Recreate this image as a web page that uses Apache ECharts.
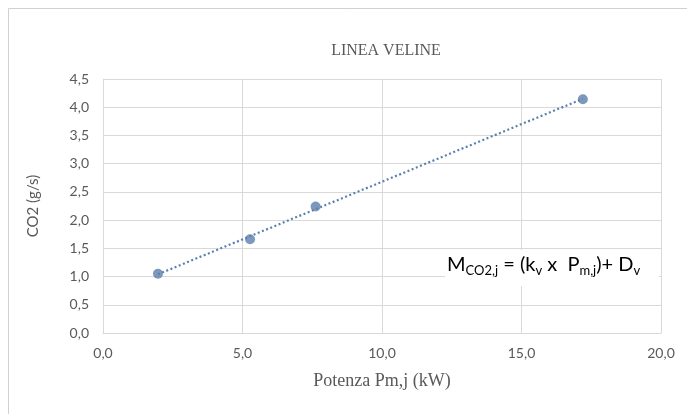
<!DOCTYPE html>
<html>
<head>
<meta charset="utf-8">
<style>
  html, body { margin: 0; padding: 0; background: #ffffff; }
  #chart { width: 687px; height: 414px; }
</style>
<script src="https://cdn.jsdelivr.net/npm/echarts@6/dist/echarts.min.js"></script>
</head>
<body>
<div id="chart"></div>
<script>
// Measured emissions per vehicle power class
const powerKW = [1.97, 5.27, 7.62, 17.2];
const co2GramsPerSec = [1.05, 1.66, 2.24, 4.14];

// Linear trend line end points (Excel-style dotted trendline)
const trendX = [1.97, 17.2];
const trendY = [1.04, 4.15];

// Axis ranges and tick steps
const xAxisRange = [0, 20, 5];
const yAxisRange = [0, 4.5, 0.5];

const chartTitle = 'LINEA VELINE';
const xAxisTitle = 'Potenza Pm,j (kW)';
const yAxisTitle = 'CO2 (g/s)';

const blue = '#5b80ad';
const grey = '#595959';
const gridGrey = '#d9d9d9';
const sansFont = 'Lato, "Open Sans", sans-serif';
const serifFont = '"Liberation Serif", "DejaVu Serif", serif';

const fmt = v => v.toFixed(1).replace('.', ',');

const chart = echarts.init(document.getElementById('chart'), null, { renderer: 'canvas' });

chart.setOption({
  backgroundColor: '#ffffff',
  animation: false,
  title: {
    text: chartTitle,
    left: 381,
    textAlign: 'center',
    top: 38,
    textStyle: { fontFamily: serifFont, fontSize: 16, fontWeight: 'normal', color: grey }
  },
  grid: { left: 103, right: 26, top: 79, bottom: 81 },
  xAxis: {
    type: 'value',
    min: xAxisRange[0], max: xAxisRange[1], interval: xAxisRange[2],
    name: xAxisTitle,
    nameLocation: 'middle',
    nameGap: 39,
    nameTextStyle: { fontFamily: serifFont, fontSize: 18, color: grey },
    axisLine: { show: true, lineStyle: { color: gridGrey, width: 1 } },
    axisTick: { show: false },
    axisLabel: { formatter: fmt, fontFamily: sansFont, fontSize: 14, color: grey, margin: 13 },
    splitLine: { show: true, lineStyle: { color: gridGrey, width: 1 } }
  },
  yAxis: {
    type: 'value',
    min: yAxisRange[0], max: yAxisRange[1], interval: yAxisRange[2],
    name: yAxisTitle,
    nameLocation: 'middle',
    nameGap: 62,
    nameRotate: 90,
    nameTextStyle: { fontFamily: sansFont, fontSize: 15, color: grey },
    axisLine: { show: true, lineStyle: { color: gridGrey, width: 1 } },
    axisTick: { show: false },
    axisLabel: { formatter: fmt, fontFamily: sansFont, fontSize: 14, color: grey, margin: 14 },
    splitLine: { show: true, lineStyle: { color: gridGrey, width: 1 } }
  },
  series: [
    {
      name: 'Tendenza',
      type: 'line',
      data: trendX.map((x, i) => [x, trendY[i]]),
      showSymbol: false,
      symbol: 'none',
      lineStyle: { color: blue, width: 2.2, type: [2, 2.5] },
      z: 2
    },
    {
      name: 'CO2',
      type: 'scatter',
      data: powerKW.map((x, i) => [x, co2GramsPerSec[i]]),
      symbol: 'circle',
      symbolSize: 10,
      itemStyle: { color: blue },
      z: 3
    }
  ],
  graphic: [
    {
      // chart area frame
      type: 'rect',
      shape: { x: 8.5, y: 8.5, width: 700, height: 420 },
      style: { fill: 'none', stroke: '#d0d0d0', lineWidth: 1 },
      silent: true,
      z: -10
    },
    {
      // equation label box
      type: 'rect',
      shape: { x: 445, y: 250, width: 214, height: 36 },
      style: { fill: '#ffffff' },
      silent: true,
      z: 50
    },
    {
      type: 'text',
      left: 447,
      top: 255,
      z: 51,
      style: {
        text: '{m|M}{s|CO2,j}{m| = (k}{s|v}{m| x  P}{s|m,j}{m|)+ D}{s|v}',
        rich: {
          m: { fontFamily: sansFont, fontSize: 20, lineHeight: 26, color: grey, verticalAlign: 'bottom', padding: [0, 0, 2, 0] },
          s: { fontFamily: sansFont, fontSize: 13, lineHeight: 14, color: grey, verticalAlign: 'bottom' }
        }
      }
    }
  ]
});
</script>
</body>
</html>
